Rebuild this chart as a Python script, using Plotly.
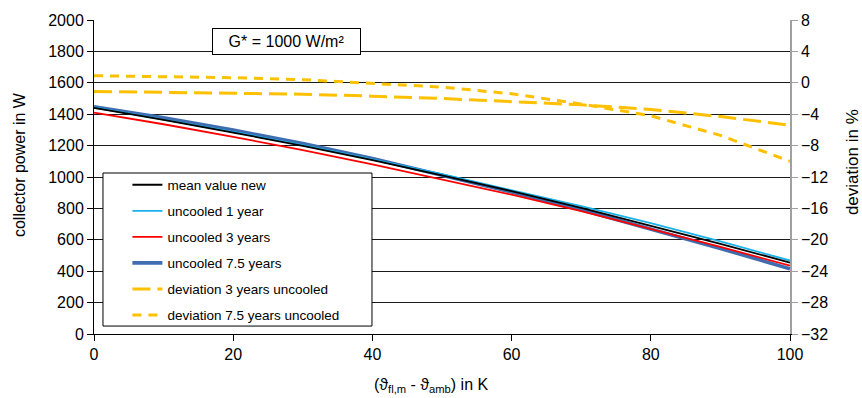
import plotly.graph_objects as go

x = [0, 10, 20, 30, 40, 50, 60, 70, 80, 90, 100]
mean_new = [1440, 1364, 1283, 1198, 1107, 1011, 910, 804, 688, 574, 455]
uncooled_1 = [1443, 1367, 1287, 1203, 1113, 1018, 918, 814, 706, 590, 468]
uncooled_3 = [1410, 1336, 1256, 1171, 1081, 986, 887, 782, 669, 555, 435]
uncooled_75 = [1447, 1377, 1299, 1213, 1118, 1012, 904, 792, 668, 545, 415]
dev_3 = [-1.1, -1.2, -1.3, -1.45, -1.7, -2.0, -2.4, -2.8, -3.4, -4.3, -5.4]
dev_75 = [0.9, 0.82, 0.65, 0.4, -0.05, -0.55, -1.4, -2.7, -4.2, -6.7, -10.0]

FONT = "Liberation Sans, Arial, sans-serif"

fig = go.Figure()

# draw order: thick blue first, then red, light blue, black
fig.add_trace(go.Scatter(x=x, y=uncooled_75, mode="lines", name="uncooled 7.5 years",
                         line=dict(color="#3F6DB0", width=3.6), legendrank=4, legendgroup="g4"))
fig.add_trace(go.Scatter(x=x, y=uncooled_3, mode="lines", name="uncooled 3 years",
                         line=dict(color="#FF0000", width=1.8), legendrank=3, legendgroup="g3"))
fig.add_trace(go.Scatter(x=x, y=uncooled_1, mode="lines", name="uncooled 1 year",
                         line=dict(color="#1AB2E8", width=1.8), legendrank=2, legendgroup="g2"))
fig.add_trace(go.Scatter(x=x, y=mean_new, mode="lines", name="mean value new",
                         line=dict(color="#000000", width=1.8), legendrank=1, legendgroup="g1"))
fig.add_trace(go.Scatter(x=x, y=dev_3, mode="lines", name="deviation 3 years uncooled", yaxis="y2",
                         line=dict(color="#FFC000", width=3, dash="18px,7px"), legendrank=5, legendgroup="g5"))
fig.add_trace(go.Scatter(x=x, y=dev_75, mode="lines", name="deviation 7.5 years uncooled", yaxis="y2",
                         line=dict(color="#FFC000", width=3, dash="9px,7px"), legendrank=6, legendgroup="g6"))

fig.update_layout(
    width=862, height=398,
    margin=dict(l=94, r=72, t=18, b=64),
    paper_bgcolor="white", plot_bgcolor="white",
    font=dict(family=FONT, color="black", size=16),
    xaxis=dict(range=[0, 100], dtick=20, tick0=0, showgrid=False, zeroline=False,
               showline=True, linecolor="black", linewidth=1,
               ticks="outside", ticklen=6, tickcolor="black",
               tickfont=dict(size=16, family=FONT)),
    yaxis=dict(range=[0, 2000], dtick=200, tick0=0, showgrid=True, gridcolor="#1a1a1a", gridwidth=1,
               zeroline=False, showline=True, linecolor="black", linewidth=1,
               ticks="outside", ticklen=6, tickcolor="black",
               tickfont=dict(size=16, family=FONT)),
    yaxis2=dict(range=[-32, 8], dtick=4, tick0=0, overlaying="y", side="right",
                showgrid=False, zeroline=False, showline=True, linecolor="#A0A0A0", linewidth=1.5,
                ticks="outside", ticklen=6, tickcolor="#A0A0A0",
                tickfont=dict(size=16, family=FONT)),
    showlegend=True,
    legend=dict(x=0.048, y=0.524, xanchor="left", yanchor="top",
                bgcolor="rgba(0,0,0,0)", borderwidth=0,
                font=dict(size=13.5, family=FONT), tracegroupgap=5.5,
                itemwidth=30),
    shapes=[dict(type="rect", xref="paper", yref="paper",
                 x0=0.0129, x1=0.3994, y0=0.0253, y1=0.5127,
                 line=dict(color="black", width=1), fillcolor="white", layer="above")],
    annotations=[
        dict(text="G* = 1000 W/m²", xref="paper", yref="paper", x=0.2766, y=0.932,
             xanchor="center", yanchor="middle", showarrow=False,
             font=dict(size=16, family=FONT), bgcolor="white",
             bordercolor="black", borderwidth=1, borderpad=2, width=143, height=21),
        dict(text="collector power in W", xref="paper", yref="paper",
             x=(19 - 94) / 696, y=(334 - 164) / 316, xanchor="center", yanchor="middle",
             textangle=-90, showarrow=False, font=dict(size=16, family=FONT)),
        dict(text="deviation in %", xref="paper", yref="paper",
             x=(852 - 94) / 696, y=(334 - 161) / 316, xanchor="center", yanchor="middle",
             textangle=-90, showarrow=False, font=dict(size=17, family=FONT)),
        dict(text="(ϑ<sub>fl,m</sub> - ϑ<sub>amb</sub>) in K", xref="paper", yref="paper",
             x=(431 - 94) / 696, y=(334 - 386) / 316, xanchor="center", yanchor="middle",
             showarrow=False, font=dict(size=16, family=FONT)),
    ],
)

fig.write_html("out.html")
